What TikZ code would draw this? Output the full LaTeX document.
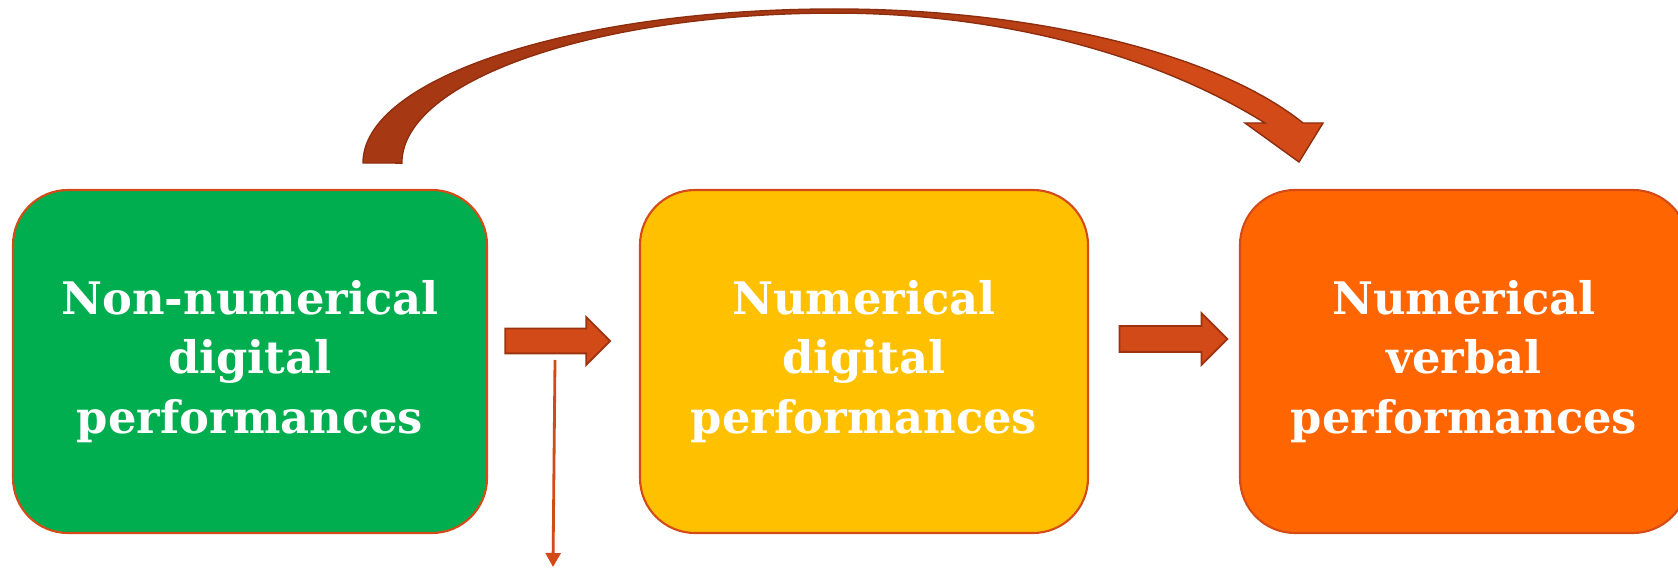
\documentclass[tikz,border=0pt]{standalone}
\usepackage{fontspec}
\newfontfamily\boxfont{DejaVu Serif}
\usetikzlibrary{arrows.meta,shapes.arrows}

\definecolor{perfgreen}{HTML}{00AE4F}
\definecolor{perfyellow}{HTML}{FFC000}
\definecolor{perforange}{HTML}{FF6500}
\definecolor{boxedge}{HTML}{D44B18}
\definecolor{arrowfill}{HTML}{D24A17}
\definecolor{arrowedge}{HTML}{9C3210}
\definecolor{arcdark}{HTML}{A63814}
\definecolor{arcedge}{HTML}{8F2E0F}

\pgfdeclarehorizontalshading{arcshade}{100bp}{color(0bp)=(arcdark); color(52bp)=(arcdark); color(68bp)=(arrowfill); color(100bp)=(arrowfill)}

\tikzset{
  perfbox/.style={rectangle, rounded corners=1.1cm, draw=boxedge, line width=1.2pt,
    minimum height=6.86cm, text=white, align=center,
    font=\boxfont\bfseries\fontsize{25.5}{34}\selectfont,
    execute at begin node=\rule{0pt}{32pt}},
  fatarrow/.style={single arrow, draw=arrowedge, fill=arrowfill, line width=1pt,
    inner xsep=0pt, single arrow tip angle=90},
  droparrow/.style={draw=arrowfill, line width=1.6pt, -{Triangle[length=0.28cm,width=0.3cm]}}
}

\begin{document}
\begin{tikzpicture}
  \useasboundingbox (0,0) rectangle (33.56,11.4);
  \clip (0,0) rectangle (33.56,11.4);

  \node[perfbox, fill=perfgreen, minimum width=9.48cm] (nonnum) at (5.0,4.17) {Non-numerical\\digital\\performances};
  \node[perfbox, fill=perfyellow, minimum width=8.96cm] (numdig) at (17.28,4.17) {Numerical\\digital\\performances};
  \node[perfbox, fill=perforange, minimum width=8.96cm] (numverb) at (29.28,4.17) {Numerical\\verbal\\performances};

  \node[fatarrow, minimum height=2.1cm, inner ysep=0.23cm, single arrow head extend=0.23cm] (step1) at (11.03,4.58) {};
  \node[fatarrow, minimum height=2.16cm, inner ysep=0.24cm, single arrow head extend=0.26cm] (step2) at (23.34,4.62) {};

  \coordinate (dropstart) at (11.1,4.2);
  \coordinate (dropend) at (11.06,0.06);
  \draw[droparrow] (dropstart) -- (dropend);

  % big arc from the first box over to the last one
  \shadedraw[shading=arcshade, draw=arcedge, line width=0.8pt]
    (7.26,8.14) arc[start angle=180, end angle=90, x radius=9.44cm, y radius=3.08cm]
    arc[start angle=90, end angle=25.84, x radius=10.4cm, y radius=4.04cm]
    -- (26.46,8.94) -- (25.98,8.16) -- (24.9,8.94) -- (25.3,8.94)
    arc[start angle=44.2, end angle=90, x radius=12cm, y radius=7.26cm]
    arc[start angle=90, end angle=180, x radius=8.66cm, y radius=3cm] -- cycle;
\end{tikzpicture}
\end{document}
